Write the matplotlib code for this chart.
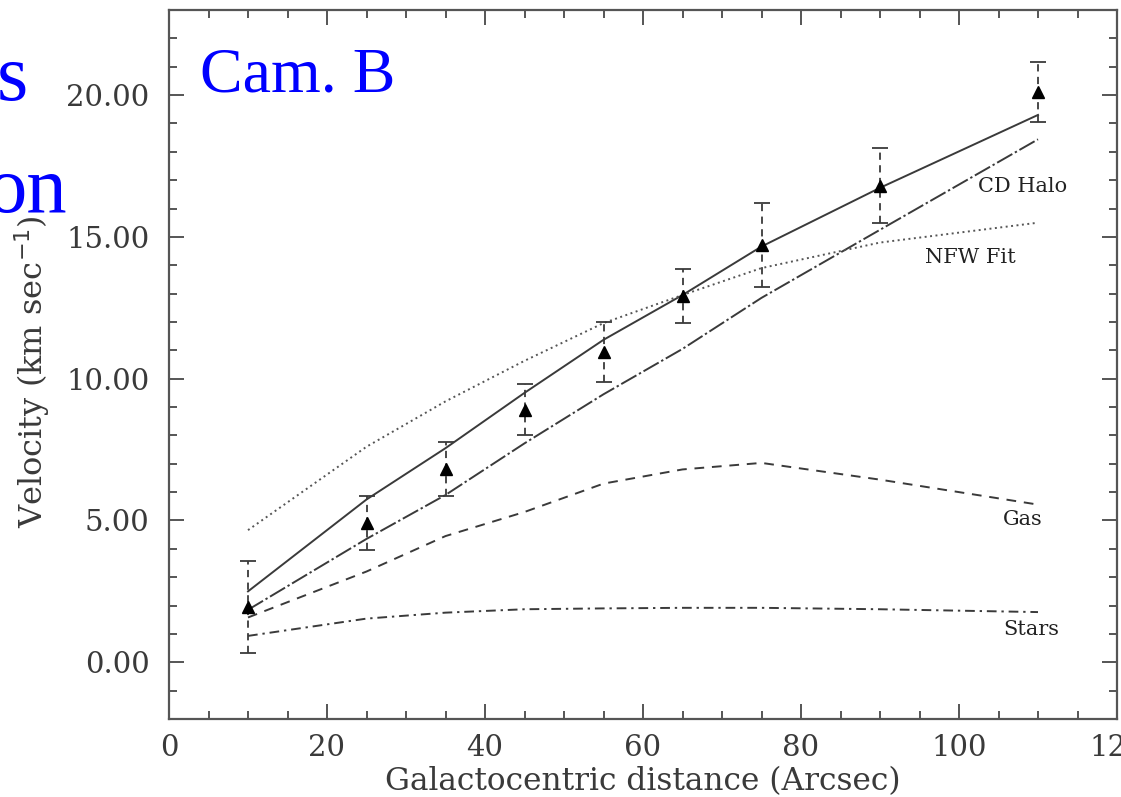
import numpy as np
import matplotlib
matplotlib.use("Agg")
import matplotlib.pyplot as plt
from matplotlib.ticker import MultipleLocator, FormatStrFormatter

# observed rotation velocities (km/s) vs radius (arcsec)
radius = [10, 25, 35, 45, 55, 65, 75, 90, 110]
v_obs = [1.95, 4.9, 6.8, 8.9, 10.95, 12.9, 14.7, 16.8, 20.1]
v_err = [1.62, 0.95, 0.95, 0.9, 1.05, 0.95, 1.48, 1.32, 1.06]

# mass model components evaluated at the same radii
v_total = [2.5, 5.74, 7.55, 9.5, 11.37, 12.95, 14.66, 16.73, 19.3]
v_halo = [1.85, 4.35, 5.9, 7.72, 9.45, 11.05, 12.85, 15.25, 18.44]
v_nfw = [4.66, 7.6, 9.2, 10.63, 11.96, 12.95, 13.9, 14.8, 15.5]
v_gas = [1.58, 3.2, 4.45, 5.3, 6.3, 6.8, 7.03, 6.44, 5.56]
v_stars = [0.93, 1.54, 1.75, 1.87, 1.9, 1.92, 1.92, 1.87, 1.77]

ink = "#3a3a3a"
serif = "DejaVu Serif"

fig = plt.figure(figsize=(11.21, 7.97), dpi=100)
ax = fig.add_axes([169 / 1121, 1 - 719 / 797, 948 / 1121, 709 / 797])

lw = 1.4
ax.plot(radius, v_total, color=ink, lw=lw, ls="-")
ax.plot(radius, v_halo, color=ink, lw=lw, dashes=(9, 1.5, 1.2, 1.5))
ax.plot(radius, v_nfw, color="#555555", lw=lw, dashes=(1, 1.8))
ax.plot(radius, v_gas, color=ink, lw=lw, dashes=(5, 4))
ax.plot(radius, v_stars, color=ink, lw=lw, dashes=(5, 2.5, 1.2, 2.5))

eb = ax.errorbar(radius, v_obs, yerr=v_err, fmt="^", color="black",
                 ecolor=ink, markersize=8, capsize=6, capthick=1.3,
                 elinewidth=1.3, zorder=5)
for col in eb[2]:
    col.set_linestyle((0, (4, 3)))

# component labels
lab_kw = dict(fontsize=15, family=serif, color="#222222", va="center", ha="left")
ax.text(102.4, 16.76, "CD Halo", **lab_kw)
ax.text(95.7, 14.26, "NFW Fit", **lab_kw)
ax.text(105.6, 5.03, "Gas", **lab_kw)
ax.text(105.6, 1.16, "Stars", **lab_kw)

ax.set_xlim(0, 120)
ax.set_ylim(-2, 23)
ax.xaxis.set_major_locator(MultipleLocator(20))
ax.xaxis.set_minor_locator(MultipleLocator(5))
ax.yaxis.set_major_locator(MultipleLocator(5))
ax.yaxis.set_minor_locator(MultipleLocator(1))
ax.yaxis.set_major_formatter(FormatStrFormatter("%.2f"))

ax.tick_params(which="both", direction="in", top=True, right=True,
               color="#555555", width=1.4)
ax.tick_params(which="major", length=11, labelsize=21, labelcolor=ink)
ax.tick_params(which="minor", length=5.5)
ax.tick_params(axis="y", which="major", pad=14)
ax.tick_params(axis="x", which="major", pad=11)
for lab in ax.get_xticklabels() + ax.get_yticklabels():
    lab.set_family(serif)
for sp in ax.spines.values():
    sp.set_color("#555555")
    sp.set_linewidth(1.6)

ax.set_xlabel("Galactocentric distance (Arcsec)", fontsize=22.5, family=serif,
              color=ink, labelpad=3)
ax.set_ylabel("Velocity (km sec$^{-1}$)", fontsize=23, family=serif, color=ink)
ax.yaxis.set_label_coords((32 - 169) / 948, 0.49)
ax.yaxis.label.set_va("center")

# slide title fragments overlaid in blue
blue_kw = dict(family="Liberation Serif", color="#0000ff",
               va="baseline", zorder=10)
fig.text(200 / 1121, 1 - 91 / 797, "Cam. B", ha="left", fontsize=46, **blue_kw)
fig.text(28 / 1121, 1 - 100 / 797, "s", ha="right", fontsize=58, **blue_kw)
fig.text(68 / 1121, 1 - 212 / 797, "on", ha="right", fontsize=58, **blue_kw)

fig.savefig("out.png", dpi=100)
